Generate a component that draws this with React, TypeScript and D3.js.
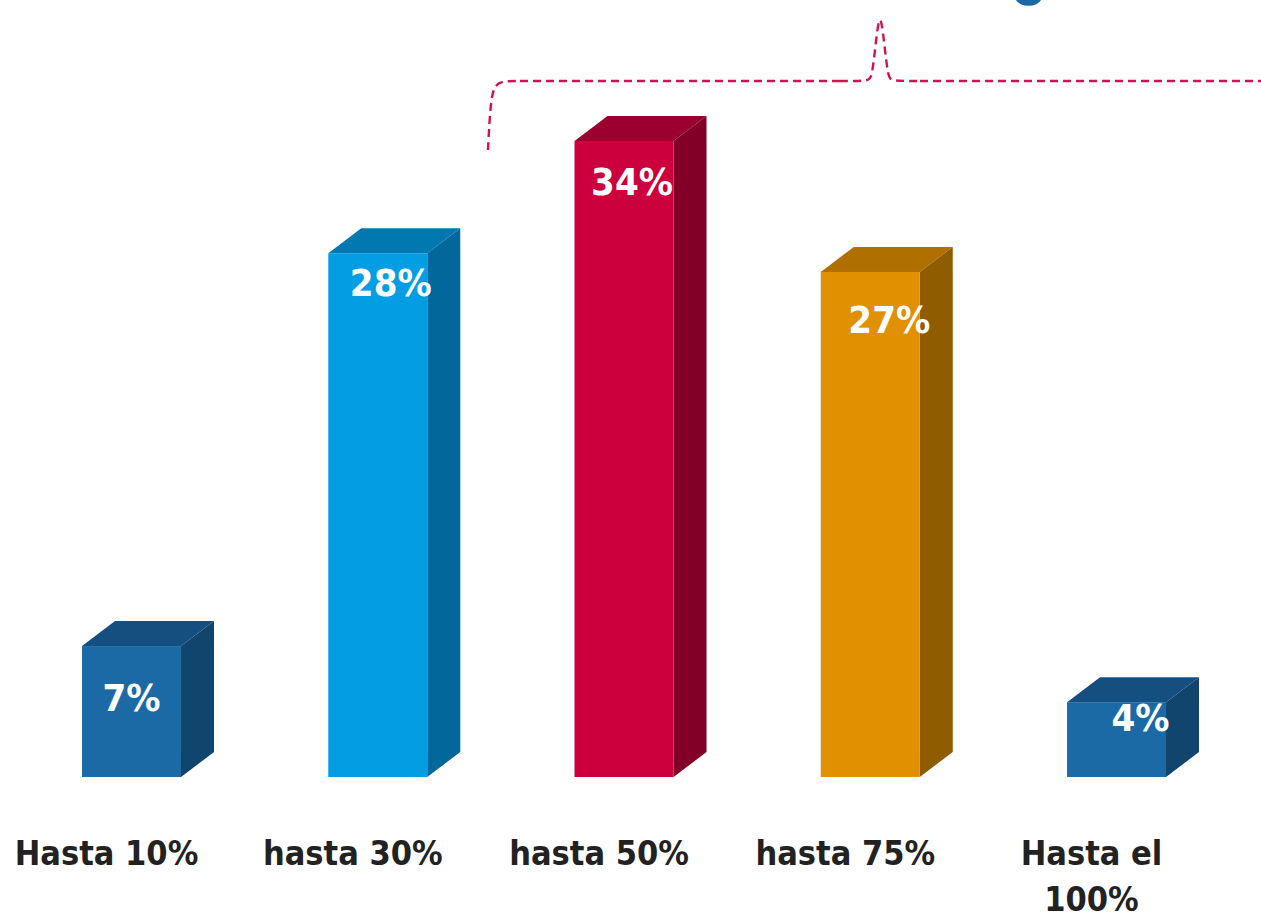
import { scaleBand, scaleLinear, line, curveBasis } from "d3";

// data
const categories = ["Hasta 10%", "hasta 30%", "hasta 50%", "hasta 75%", "Hasta el 100%"];
const values = [7, 28, 34, 27, 4];
const valueLabels = ["7%", "28%", "34%", "27%", "4%"];
const categoryLines = [["Hasta 10%"], ["hasta 30%"], ["hasta 50%"], ["hasta 75%"], ["Hasta el", "100%"]];

// face colours per bar: front, top, side
const palette = [
  { front: "#1b6aa5", top: "#154f80", side: "#11456e" },
  { front: "#039de3", top: "#0179b0", side: "#02679a" },
  { front: "#cc003d", top: "#9c0030", side: "#820027" },
  { front: "#e09000", top: "#b07000", side: "#8f5c00" },
  { front: "#1b6aa5", top: "#154f80", side: "#11456e" },
];
// data label nudges (the labels were placed by hand in the original)
const labelNudge = [
  { dx: 0, dy: 65 },
  { dx: 13, dy: 43 },
  { dx: 8, dy: 54 },
  { dx: 19, dy: 61 },
  { dx: 24, dy: 29 },
];

const W = 1261;
const H = 919;
const baseY = 777;
const depthX = 33;
const depthY = 25;
const font = "'DejaVu Sans Condensed', 'DejaVu Sans', sans-serif";

export default function App() {
  const x = scaleBand<string>()
    .domain(categories)
    .range([82 - 73.6, 82 - 73.6 + 5 * 246.25])
    .paddingInner(0.598)
    .paddingOuter(0.299);
  const y = scaleLinear().domain([0, 34]).range([baseY, 141]);
  const bw = x.bandwidth();

  const braceLeft = line<[number, number]>().curve(curveBasis)([
    [488, 150],
    [490, 110],
    [493, 88],
    [500, 81],
    [520, 81],
  ]);
  const bracePeak = line<[number, number]>().curve(curveBasis)([
    [840, 81],
    [868, 81],
    [872, 78],
    [876, 40],
    [880, 10],
    [884, 40],
    [888, 78],
    [892, 81],
    [920, 81],
  ]);

  return (
    <svg
      width={W}
      height={H}
      style={{ position: "absolute", left: 0, top: 0, background: "#fff" }}
    >
      {/* fragment of a cut-off title */}
      <path d="M1016,0 A13,8 0 0 0 1041,0 Z" fill="#1b6aa5" />

      {/* dashed brace over the middle bars */}
      <g fill="none" stroke="#d6104f" strokeWidth={2.4} strokeDasharray="8,5">
        <path d={braceLeft ?? ""} />
        <line x1={520} y1={81} x2={840} y2={81} />
        <path d={bracePeak ?? ""} />
        <line x1={920} y1={81} x2={W} y2={81} />
      </g>

      {categories.map((c, i) => {
        const x0 = x(c)!;
        const x1 = x0 + bw;
        const yt = y(values[i]);
        const col = palette[i];
        return (
          <g key={c}>
            <polygon
              points={`${x0},${yt} ${x0 + depthX},${yt - depthY} ${x1 + depthX},${yt - depthY} ${x1},${yt}`}
              fill={col.top}
            />
            <polygon
              points={`${x1},${yt} ${x1 + depthX},${yt - depthY} ${x1 + depthX},${baseY - depthY} ${x1},${baseY}`}
              fill={col.side}
            />
            <rect x={x0} y={yt} width={bw} height={baseY - yt} fill={col.front} />
            <text
              x={x0 + bw / 2 + labelNudge[i].dx}
              y={yt + labelNudge[i].dy}
              textAnchor="middle"
              fill="#fff"
              fontFamily={font}
              fontWeight="bold"
              fontSize={38}
            >
              {valueLabels[i]}
            </text>
            {categoryLines[i].map((t, j) => (
              <text
                key={t}
                x={x0 + bw / 2 - 25}
                y={865 + j * 46}
                textAnchor="middle"
                fill="#222"
                fontFamily={font}
                fontWeight="bold"
                fontSize={34}
              >
                {t}
              </text>
            ))}
          </g>
        );
      })}
    </svg>
  );
}
